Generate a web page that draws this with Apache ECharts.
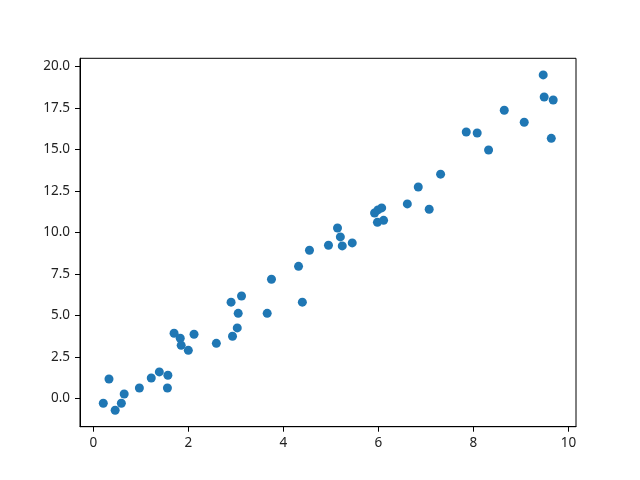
<!DOCTYPE html>
<html>
<head>
<meta charset="utf-8">
<script src="https://cdn.jsdelivr.net/npm/echarts@6/dist/echarts.min.js"></script>
<style>html,body{margin:0;padding:0;background:#fff}#c{width:640px;height:480px}</style>
</head>
<body>
<div id="c"></div>
<script>
var xValues = [0.21,0.33,0.46,0.59,0.65,0.97,1.22,1.39,1.57,1.56,1.70,1.83,1.85,2.00,2.12,2.59,2.90,3.12,3.05,3.03,2.93,3.66,3.75,4.32,4.40,4.55,4.95,5.14,5.20,5.24,5.45,5.92,5.99,6.07,5.98,6.11,6.61,6.84,7.07,7.31,7.85,8.08,8.32,8.65,9.07,9.47,9.49,9.68,9.64];
var yValues = [-0.29,1.17,-0.71,-0.29,0.27,0.63,1.23,1.60,1.40,0.63,3.93,3.63,3.20,2.90,3.87,3.32,5.80,6.17,5.13,4.25,3.75,5.13,7.18,7.96,5.80,8.93,9.23,10.27,9.73,9.19,9.37,11.17,11.36,11.48,10.61,10.73,11.72,12.74,11.40,13.51,16.05,15.99,14.97,17.36,16.64,19.49,18.16,17.98,15.67];
var xTicks = [0,2,4,6,8,10];
var yTicks = [0,2.5,5,7.5,10,12.5,15,17.5,20];

var points = xValues.map(function(x,i){return [x,yValues[i]];});
var font = '"Noto Sans", "Open Sans", sans-serif';
var chart = echarts.init(document.getElementById('c'));
chart.setOption({
  animation:false,
  backgroundColor:'#fff',
  grid:{left:80,right:64,top:58.3,bottom:53.3,show:true,borderColor:'#000',borderWidth:1,backgroundColor:'transparent'},
  xAxis:{type:'value',min:-0.28,max:10.16,
    splitLine:{show:false},
    axisLine:{show:true,onZero:false,lineStyle:{color:'#000',width:1}},
    axisTick:{show:true,inside:false,length:5,lineStyle:{color:'#000'},customValues:xTicks},
    axisLabel:{color:'#222',fontFamily:font,fontSize:13.5,margin:9,customValues:xTicks,formatter:function(v){return String(v);}}
  },
  yAxis:{type:'value',min:-1.70,max:20.49,
    splitLine:{show:false},
    axisLine:{show:true,onZero:false,lineStyle:{color:'#000',width:1}},
    axisTick:{show:true,inside:false,length:5,lineStyle:{color:'#000'},customValues:yTicks},
    axisLabel:{color:'#222',fontFamily:font,fontSize:13.5,margin:10,customValues:yTicks,formatter:function(v){return v.toFixed(1);}}
  },
  series:[{type:'scatter',data:points,symbolSize:9,itemStyle:{color:'#1f77b4',opacity:1}}]
});
</script>
</body>
</html>
